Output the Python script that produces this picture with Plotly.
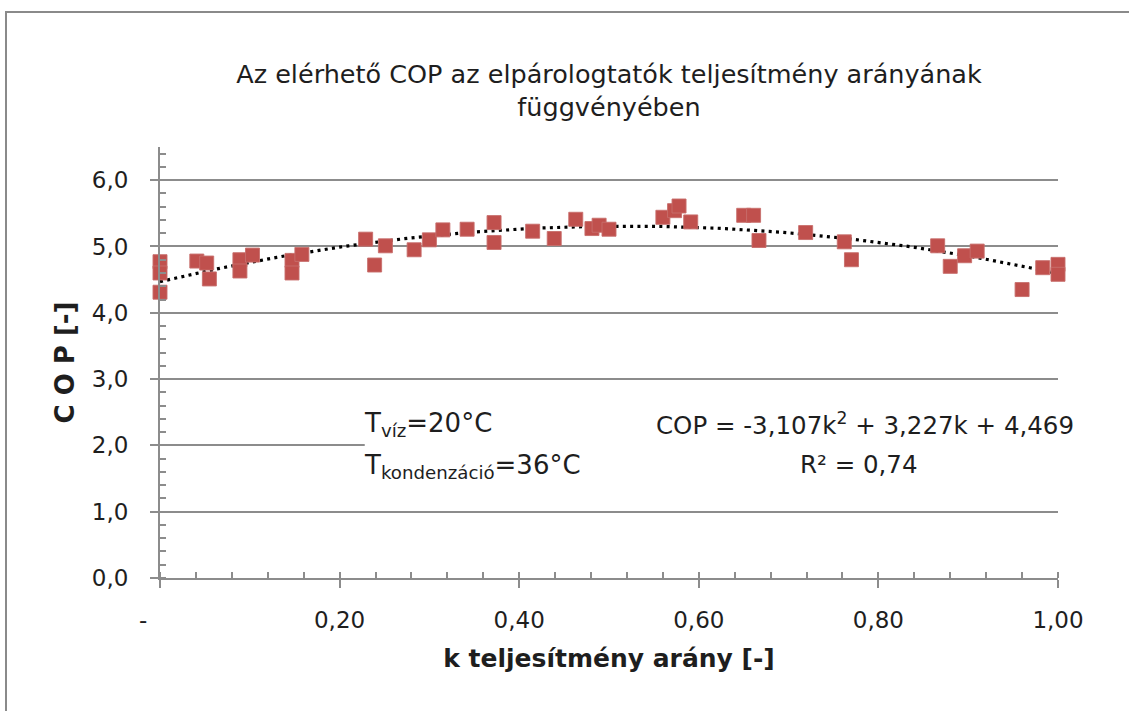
import plotly.graph_objects as go

# Measured operating points: evaporator load ratio k and achieved COP
k_ratio = [0.000, 0.000, 0.000, 0.041, 0.052, 0.055, 0.089, 0.089, 0.103,
           0.147, 0.147, 0.158, 0.229, 0.239, 0.251, 0.283, 0.300, 0.315,
           0.342, 0.372, 0.372, 0.415, 0.439, 0.463, 0.481, 0.489, 0.500,
           0.560, 0.573, 0.578, 0.591, 0.650, 0.661, 0.667, 0.719, 0.762,
           0.770, 0.866, 0.880, 0.896, 0.910, 0.960, 0.983, 1.000, 1.000]
cop = [4.77, 4.60, 4.31, 4.78, 4.75, 4.51, 4.80, 4.63, 4.87,
       4.79, 4.60, 4.88, 5.11, 4.72, 5.01, 4.95, 5.10, 5.25,
       5.26, 5.36, 5.06, 5.23, 5.12, 5.41, 5.27, 5.32, 5.26,
       5.44, 5.54, 5.61, 5.37, 5.47, 5.47, 5.09, 5.21, 5.07,
       4.80, 5.01, 4.70, 4.86, 4.93, 4.35, 4.68, 4.73, 4.58]

# Quadratic trend coefficients (COP = a*k^2 + b*k + c)
coef_a, coef_b, coef_c = -3.107, 3.227, 4.469
r_squared = 0.74

x_ticks = [0.0, 0.2, 0.4, 0.6, 0.8, 1.0]
x_tick_text = ["", "0,20", "0,40", "0,60", "0,80", "1,00"]

FONT = "DejaVu Sans"
TEXT = "#1e1e1e"
GRID = "#8c8c8c"
RED = "#C0504D"

trend_k = [i / 100 for i in range(101)]
trend_cop = [coef_a * k * k + coef_b * k + coef_c for k in trend_k]

fig = go.Figure()
fig.add_trace(go.Scatter(
    x=trend_k, y=trend_cop, mode="lines",
    line=dict(color="black", width=3.2, dash="3px,4.3px"),
    hoverinfo="skip", showlegend=False))
fig.add_trace(go.Scatter(
    x=k_ratio, y=cop, mode="markers",
    marker=dict(symbol="square", size=14, color=RED,
                line=dict(color="rgba(200,110,108,0.9)", width=1)),
    cliponaxis=False, showlegend=False))

fmt = lambda v, d: f"{v:.{d}f}".replace(".", ",")
eq_line = f"COP = {fmt(coef_a, 3)}k<sup>2</sup> + {fmt(coef_b, 3)}k + {fmt(coef_c, 3)}"
r2_line = f"R² = {fmt(r_squared, 2)}"

tick_font = dict(family=FONT, size=23, color=TEXT)
cond_font = dict(family=FONT, size=26, color=TEXT)
eq_font = dict(family=FONT, size=24.5, color=TEXT)

fig.update_layout(
    width=1129, height=711,
    margin=dict(l=160, r=71, t=147, b=133),
    paper_bgcolor="white", plot_bgcolor="white",
    separators=",.",
    font=tick_font,
    title=dict(
        text="Az elérhető COP az elpárologtatók teljesítmény arányának<br>függvényében",
        x=0.5, xref="paper", y=1 - 83 / 711, yref="container",
        xanchor="center", yanchor="middle",
        font=dict(family=FONT, size=25.5, color=TEXT)),
    xaxis=dict(
        range=[0, 1], tickvals=x_ticks, ticktext=x_tick_text,
        showgrid=False, zeroline=False,
        showline=True, linecolor=GRID, linewidth=2,
        ticks="outside", ticklen=8, tickwidth=2, tickcolor=GRID,
        ticklabelstandoff=12,
        minor=dict(dtick=0.04, tick0=0, ticks="inside", ticklen=6,
                   tickwidth=2, tickcolor=GRID, showgrid=False),
        tickfont=tick_font,
        title=dict(text="k teljesítmény arány [-]", standoff=18,
                   font=dict(family=FONT, size=25, color=TEXT, weight="bold"))),
    yaxis=dict(
        range=[0, 6.5], tickvals=[0, 1, 2, 3, 4, 5, 6], tickformat=".1f",
        showgrid=True, gridcolor=GRID, gridwidth=2, zeroline=False,
        showline=True, linecolor=GRID, linewidth=2,
        ticks="outside", ticklen=8, tickwidth=2, tickcolor=GRID,
        ticklabelstandoff=17,
        minor=dict(dtick=0.2, tick0=0, ticks="inside", ticklen=6,
                   tickwidth=2, tickcolor=GRID, showgrid=False),
        tickfont=tick_font,
        title=dict(text="C O P [-]", standoff=10,
                   font=dict(family=FONT, size=26, color=TEXT, weight="bold"))),
    shapes=[
        # white backing behind the text block (hides the 2,0 gridline)
        dict(type="rect", xref="x", yref="y", x0=0.228, x1=1.02, y0=1.35, y1=2.68,
             fillcolor="white", line=dict(width=0), layer="between"),
        # chart-area border
        dict(type="rect", xref="paper", yref="paper",
             x0=(6 - 160) / 898, x1=(1150 - 160) / 898,
             y0=(578 - 730) / 431, y1=(578 - 12) / 431,
             line=dict(color="#8a8a8a", width=2), fillcolor="rgba(0,0,0,0)",
             layer="above"),
    ],
    annotations=[
        dict(text="-", x=0, xref="x", y=-(620 - 578) / 431, yref="paper",
             showarrow=False, xshift=-17, xanchor="center", yanchor="middle",
             font=tick_font),
        dict(text="T<sub>víz</sub>=20°C", x=0.225, xref="x", y=2.31, yref="y",
             xanchor="left", yanchor="middle", align="left", showarrow=False,
             font=cond_font),
        dict(text="T<sub>kondenzáció</sub>=36°C", x=0.225, xref="x", y=1.68, yref="y",
             xanchor="left", yanchor="middle", align="left", showarrow=False,
             font=cond_font),
        dict(text=eq_line, x=0.785, xref="x", y=2.32, yref="y",
             xanchor="center", yanchor="middle", showarrow=False,
             font=eq_font),
        dict(text=r2_line, x=0.778, xref="x", y=1.71, yref="y",
             xanchor="center", yanchor="middle", showarrow=False,
             font=eq_font),
    ],
)

fig.write_html("out.html")
